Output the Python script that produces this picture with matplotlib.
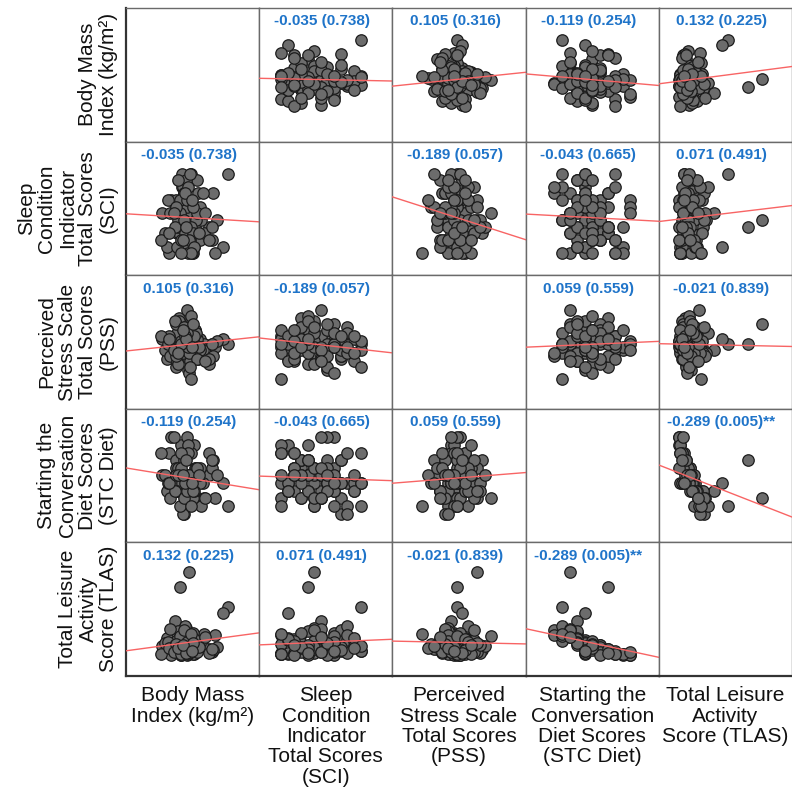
import numpy as np
import matplotlib.pyplot as plt

plt.rcParams['font.family'] = ['Liberation Sans', 'DejaVu Sans']

labels = ["Body Mass\nIndex (kg/m²)",
          "Sleep\nCondition\nIndicator\nTotal Scores\n(SCI)",
          "Perceived\nStress Scale\nTotal Scores\n(PSS)",
          "Starting the\nConversation\nDiet Scores\n(STC Diet)",
          "Total Leisure\nActivity\nScore (TLAS)"]

bmi = [26.8, 24.2, 38.5, 37.0, 22.7, 25.1, 27.9, 23.4, 29.6, 20.8,
       26.2, 32.8, 24.7, 28.3, 18.9, 25.9, 33.8, 27.1, 23.9, 26.6,
       34.6, 21.4, 28.8, 25.4, 30.1, 24.0, 27.6, 20.2, 26.0, 31.5,
       23.1, 28.0, 25.6, 35.2, 22.9, 27.3, 24.5, 29.2, 19.6, 26.4,
       34.1, 25.0, 28.6, 23.6, 26.9, 18.6, 30.5, 24.8, 27.8, 21.2,
       25.8, 31.0, 26.3, 23.3, 29.0, 25.2, 27.4, 20.6, 32.9, 26.1,
       24.3, 28.2, 23.7, 26.7, 30.3, 25.5, 22.6, 27.0, 24.1, 29.4,
       21.0, 26.5, 28.5, 23.0, 25.3, 33.9, 27.2, 24.6, 26.2, 22.4,
       29.8, 25.7, 27.5, 24.4, 28.1, 23.5, 26.0, 31.8, 25.0, 27.7]
sci = [13, 12, 20, 9, 14, 10, 15, 11, 17, 8,
       16, 12, 18, 9, 14, 13, 10, 19, 11, 15,
       8, 16, 12, 17, 10, 13, 20, 9, 14, 11,
       15, 8, 18, 13, 16, 10, 12, 19, 11, 14,
       17, 9, 15, 12, 16, 10, 13, 20, 8, 14,
       11, 17, 15, 9, 13, 18, 12, 16, 10, 19,
       14, 11, 13, 8, 15, 17, 12, 10, 16, 14,
       11, 18, 9, 15, 13, 12, 20, 10, 16, 14,
       11, 17, 8, 8, 15, 19, 12, 14, 10, 16]
pss = [25, 18, 18, 20, 16, 14, 19, 22, 13, 21,
       17, 11, 24, 16, 20, 15, 18, 12, 27, 9,
       17, 19, 23, 14, 20, 26, 16, 13, 21, 18,
       10, 15, 22, 19, 25, 12, 17, 20, 16, 30,
       14, 18, 23, 15, 8, 21, 17, 19, 20, 14,
       24, 16, 18, 12, 22, 15, 28, 18, 13, 21,
       17, 19, 11, 23, 16, 20, 26, 15, 18, 13,
       20, 17, 21, 14, 24, 18, 10, 19, 22, 16,
       17, 21, 6, 18, 25, 15, 20, 12, 23, 17]
stc = [3, 8, 2, 5, 4, 6, 5, 7, 3, 9,
       4, 6, 5, 10, 6, 2, 7, 4, 8, 5,
       3, 11, 6, 1, 7, 5, 9, 4, 6, 3,
       8, 5, 2, 6, 7, 4, 10, 5, 6, 3,
       8, 5, 7, 4, 6, 9, 2, 5, 6, 3,
       8, 5, 11, 4, 7, 1, 6, 5, 9, 4,
       6, 3, 7, 10, 5, 8, 4, 6, 2, 7,
       5, 9, 4, 6, 3, 8, 5, 7, 4, 11,
       6, 5, 2, 9, 4, 6, 8, 3, 6, 5]
tlas = [80, 66, 47, 41, 33, 8, 12, 4, 18, 2,
        22, 6, 15, 1, 9, 26, 3, 14, 5, 11,
        20, 0, 7, 24, 10, 2, 4, 17, 13, 21,
        6, 1, 28, 8, 3, 16, 0, 9, 12, 19,
        5, 2, 10, 23, 7, 1, 14, 4, 11, 25,
        3, 8, 0, 15, 6, 20, 9, 13, 2, 17,
        5, 22, 8, 1, 12, 4, 10, 14, 19, 3,
        7, 2, 16, 11, 24, 6, 9, 0, 13, 3,
        8, 5, 21, 1, 12, 7, 2, 18, 10, 4]

# Pearson r and p for each pair (symmetric)
r_vals = [[None, -0.035, 0.105, -0.119, 0.132],
          [-0.035, None, -0.189, -0.043, 0.071],
          [0.105, -0.189, None, 0.059, -0.021],
          [-0.119, -0.043, 0.059, None, -0.289],
          [0.132, 0.071, -0.021, -0.289, None]]
p_vals = [[None, 0.738, 0.316, 0.254, 0.225],
          [0.738, None, 0.057, 0.665, 0.491],
          [0.316, 0.057, None, 0.559, 0.839],
          [0.254, 0.665, 0.559, None, 0.005],
          [0.225, 0.491, 0.839, 0.005, None]]

data = [np.array(v, dtype=float) for v in (bmi, sci, pss, stc, tlas)]
limits = [(8, 48), (4.7, 24.8), (-4.5, 42.1), (-2.77, 14.73), (-20, 109)]

W = H = 792
fig = plt.figure(figsize=(W / 100, H / 100), dpi=100)

left, top = 126, 8
cw, ch = 133.2, 133.6
n = 5

for i in range(n):
    for j in range(n):
        x0 = left + j * cw
        y0 = top + (i + 1) * ch
        ax = fig.add_axes([x0 / W, 1 - y0 / H, cw / W, ch / H])
        ax.set_xlim(limits[j])
        ax.set_ylim(limits[i])
        ax.set_xticks([])
        ax.set_yticks([])
        for s in ax.spines.values():
            s.set_color('#6a6a6a')
            s.set_linewidth(1.0)
        if j == 0:
            ax.spines['left'].set_color('#333333')
            ax.spines['left'].set_linewidth(1.6)
        if i == n - 1:
            ax.spines['bottom'].set_color('#333333')
            ax.spines['bottom'].set_linewidth(1.6)
        if i == j:
            continue

        xs, ys = data[j], data[i]
        ax.scatter(xs, ys, s=68, facecolor='#6c6c6c', edgecolor='#1c1c1c',
                   linewidth=0.9, zorder=2, clip_on=False)

        # fit line built from the reported r, through the means
        r = r_vals[i][j]
        p = p_vals[i][j]
        slope = r * ys.std() / xs.std()
        lx = np.array(limits[j])
        ly = ys.mean() + slope * (lx - xs.mean())
        ax.plot(lx, ly, color='#f86464', linewidth=1.0, zorder=3)

        txt = f"{r:.3f} ({p:.3f})" + ("**" if p < 0.01 else "")
        ax.text(0.47, 0.9, txt, transform=ax.transAxes, ha='center',
                va='center', color='#1f74c9', fontsize=11, fontweight='bold')

for k in range(n):
    # column titles along the bottom
    cx = left + (k + 0.5) * cw
    fig.text(cx / W, 1 - 686 / H, labels[k], ha='center', va='top',
             fontsize=15, linespacing=1.1, multialignment='center',
             color='#111111')
    # row titles on the left
    cy = top + (k + 0.5) * ch
    fig.text(118 / W, 1 - cy / H, labels[k], ha='right', va='center',
             rotation=90, fontsize=15, linespacing=1.1,
             multialignment='center', color='#111111')

plt.savefig('out.png', dpi=100)
